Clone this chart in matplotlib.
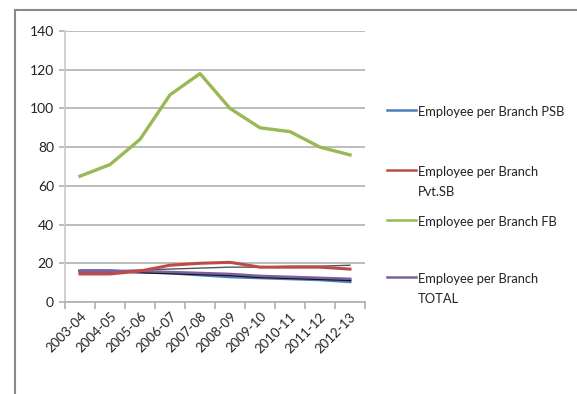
import matplotlib
matplotlib.use("Agg")
import matplotlib.pyplot as plt
from matplotlib.lines import Line2D

years = ["2003-04", "2004-05", "2005-06", "2006-07", "2007-08",
         "2008-09", "2009-10", "2010-11", "2011-12", "2012-13"]
psb = [16, 16, 15.5, 15, 14, 13, 12.5, 12, 11.5, 10.5]
pvt = [14.5, 14.5, 16, 19, 20, 20.5, 18, 18, 18, 17]
fb = [65, 71, 84, 107, 118, 100, 90, 88, 80, 76]
total = [16, 16, 16, 15.5, 15, 14.5, 13.5, 13, 12.5, 12]
extra_dark = [16, 16, 15.5, 15, 14.5, 14, 13, 12.5, 12, 11.5]
extra_thin = [16, 16, 16.5, 17, 17.5, 18, 18, 18.5, 18.5, 19]

labels = ["Employee per Branch PSB", "Employee per Branch\nPvt.SB",
          "Employee per Branch FB", "Employee per Branch\nTOTAL"]
colors = ["#4a7ebb", "#be4b48", "#98b954", "#7d60a0"]

plt.rcParams['font.family'] = ['Lato', 'DejaVu Sans']

fig = plt.figure(figsize=(5.77, 3.94), dpi=100)
ax = fig.add_axes([65/577, 1-302/394, 300/577, 271/394])

x = [i + 0.5 for i in range(len(years))]
ax.plot(x, extra_thin, color="#555555", lw=1.0, zorder=2)
ax.plot(x, psb, color=colors[0], lw=2.2, zorder=3)
ax.plot(x, extra_dark, color="#151515", lw=2.0, zorder=3)
ax.plot(x, total, color=colors[3], lw=1.8, zorder=4)
ax.plot(x, pvt, color=colors[1], lw=2.2, zorder=4)
ax.plot(x, fb, color=colors[2], lw=2.4, zorder=4)

ax.set_xlim(0, 10)
ax.set_ylim(0, 140)
ax.set_yticks(range(0, 141, 20))
ax.yaxis.grid(True, color="#b0b0b0", lw=1.2)
ax.set_axisbelow(True)
for s in ["top", "right"]:
    ax.spines[s].set_visible(False)
ax.spines["left"].set_color("#c8c8c8")
ax.spines["bottom"].set_color("#b0b0b0")
ax.spines["left"].set_linewidth(1.2)
ax.spines["bottom"].set_linewidth(1.2)

ax.set_xticks(range(0, 11))
ax.set_xticklabels([])
ax.tick_params(axis="x", which="major", length=5, color="#b0b0b0", width=1.2)
ax.set_xticks(x, minor=True)
ax.set_xticklabels(years, minor=True, rotation=45, ha="right",
                   rotation_mode="anchor", fontsize=9.5, color="#222222")
ax.tick_params(axis="x", which="minor", length=0, pad=6)
ax.tick_params(axis="y", length=4, color="#b0b0b0", width=1.2,
               labelsize=10, labelcolor="#222222", pad=4)

# legend drawn manually to keep Excel-like spacing
leg_y = [110, 170, 220, 277]
for lab, col, yy in zip(labels, colors, leg_y):
    yf = 1 - yy/394
    fig.add_artist(Line2D([387/577, 416/577], [yf, yf], color=col, lw=1.8))
    fig.text(418/577, yf + 0.010, lab, fontsize=9.3, va="top", ha="left",
             color="#222222", linespacing=1.75)

# outer frame (top and left edges)
fig.add_artist(Line2D([15/577, 1], [1-10/394, 1-10/394], color="#8a8a8a", lw=1.5))
fig.add_artist(Line2D([15/577, 15/577], [0, 1-10/394], color="#8a8a8a", lw=1.5))

fig.savefig("out.png", dpi=100)
